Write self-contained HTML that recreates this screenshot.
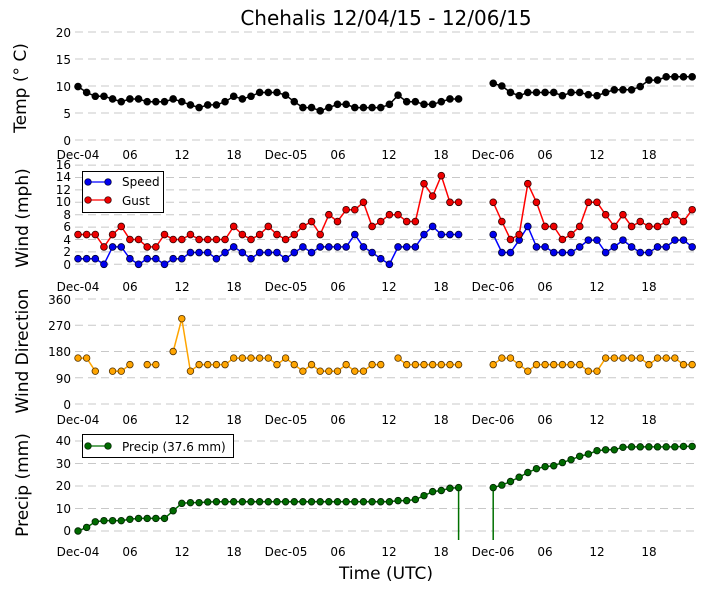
<!DOCTYPE html>
<html><head><meta charset="utf-8"><style>
html,body{margin:0;padding:0;background:#fff;}
svg{display:block;font-family:"DejaVu Sans","Liberation Sans",sans-serif;}
.t{font-size:12px;fill:#000;}
.yl{font-size:17px;fill:#000;}
</style></head><body>
<svg id="s" width="705" height="593" xmlns="http://www.w3.org/2000/svg">
<text x="386" y="25" text-anchor="middle" style="font-size:20px">Chehalis 12/04/15 - 12/06/15</text>
<g id="grid" stroke="#c8c8c8" stroke-width="1" stroke-dasharray="8,5"></g>
<g class="t" text-anchor="end">
<text x="71" y="37">20</text><text x="71" y="64">15</text><text x="71" y="91">10</text><text x="71" y="118">5</text><text x="71" y="145">0</text>
<text x="71" y="169">16</text><text x="71" y="181">14</text><text x="71" y="194">12</text><text x="71" y="206">10</text><text x="71" y="219">8</text><text x="71" y="231">6</text><text x="71" y="244">4</text><text x="71" y="256">2</text><text x="71" y="269">0</text>
<text x="71" y="304">360</text><text x="71" y="330">270</text><text x="71" y="356">180</text><text x="71" y="383">90</text><text x="71" y="409">0</text>
<text x="71" y="445">40</text><text x="71" y="468">30</text><text x="71" y="490">20</text><text x="71" y="513">10</text><text x="71" y="535">0</text>
</g>
<g class="t" text-anchor="middle">
<text x="78" y="159">Dec-04</text><text x="130" y="159">06</text><text x="182" y="159">12</text><text x="234" y="159">18</text><text x="286" y="159">Dec-05</text><text x="338" y="159">06</text><text x="389" y="159">12</text><text x="441" y="159">18</text><text x="493" y="159">Dec-06</text><text x="545" y="159">06</text><text x="597" y="159">12</text><text x="649" y="159">18</text>
<text x="78" y="291">Dec-04</text><text x="130" y="291">06</text><text x="182" y="291">12</text><text x="234" y="291">18</text><text x="286" y="291">Dec-05</text><text x="338" y="291">06</text><text x="389" y="291">12</text><text x="441" y="291">18</text><text x="493" y="291">Dec-06</text><text x="545" y="291">06</text><text x="597" y="291">12</text><text x="649" y="291">18</text>
<text x="78" y="424">Dec-04</text><text x="130" y="424">06</text><text x="182" y="424">12</text><text x="234" y="424">18</text><text x="286" y="424">Dec-05</text><text x="338" y="424">06</text><text x="389" y="424">12</text><text x="441" y="424">18</text><text x="493" y="424">Dec-06</text><text x="545" y="424">06</text><text x="597" y="424">12</text><text x="649" y="424">18</text>
<text x="78" y="556">Dec-04</text><text x="130" y="556">06</text><text x="182" y="556">12</text><text x="234" y="556">18</text><text x="286" y="556">Dec-05</text><text x="338" y="556">06</text><text x="389" y="556">12</text><text x="441" y="556">18</text><text x="493" y="556">Dec-06</text><text x="545" y="556">06</text><text x="597" y="556">12</text><text x="649" y="556">18</text>
</g>
<g class="yl" text-anchor="middle">
<text transform="translate(26,88) rotate(-90)">Temp (° C)</text>
<text transform="translate(28,218) rotate(-90)">Wind (mph)</text>
<text transform="translate(28,351) rotate(-90)">Wind Direction</text>
<text transform="translate(28,485) rotate(-90)">Precip (mm)</text>
<text x="386" y="579">Time (UTC)</text>
</g>
<g id="series"></g>
<rect x="82.5" y="171.5" width="81" height="41" fill="#fff" stroke="#000" stroke-width="1"/>
<line x1="88" y1="182" x2="108" y2="182" stroke="#0000ff" stroke-width="1.3"/>
<circle cx="88" cy="182" r="3.3" fill="#0000ee" stroke="#000033" stroke-width="0.7"/><circle cx="108" cy="182" r="3.3" fill="#0000ee" stroke="#000033" stroke-width="0.7"/>
<text class="t" x="122" y="186">Speed</text>
<line x1="88" y1="200" x2="108" y2="200" stroke="#ff0000" stroke-width="1.3"/>
<circle cx="88" cy="200" r="3.3" fill="#ee0000" stroke="#330000" stroke-width="0.7"/><circle cx="108" cy="200" r="3.3" fill="#ee0000" stroke="#330000" stroke-width="0.7"/>
<text class="t" x="122" y="205">Gust</text>
<rect x="82.5" y="434.5" width="151" height="23" fill="#fff" stroke="#000" stroke-width="1"/>
<line x1="88" y1="446" x2="108" y2="446" stroke="#007000" stroke-width="1.3"/>
<circle cx="88" cy="446" r="3.3" fill="#006a00" stroke="#002000" stroke-width="0.7"/><circle cx="108" cy="446" r="3.3" fill="#006a00" stroke="#002000" stroke-width="0.7"/>
<text class="t" x="122" y="451">Precip (37.6 mm)</text>
</svg>
<script>
var NS="http://www.w3.org/2000/svg";
function X(h){return 78+h*8.65;}
var grid=document.getElementById('grid');
function gl(y){var l=document.createElementNS(NS,'line');l.setAttribute('x1',75);l.setAttribute('x2',697);l.setAttribute('y1',y);l.setAttribute('y2',y);grid.appendChild(l);}
[32,59,86,113,140].forEach(gl);
for(var i=0;i<=8;i++)gl(264.3-i*12.4);
for(var i=0;i<=4;i++)gl(404-i*26.25);
for(var i=0;i<=4;i++)gl(531-i*22.5);
var ser=document.getElementById('series');
function draw(segs,yf,col,fill,edge,r){
 segs.forEach(function(s){
  var pts=[];var cur=[];
  s.v.forEach(function(v,i){var h=s.h+i;if(v===null){if(cur.length)pts.push(cur);cur=[];}else cur.push([X(h),yf(v)]);});
  if(cur.length)pts.push(cur);
  pts.forEach(function(c){
   var pl=document.createElementNS(NS,'polyline');
   pl.setAttribute('points',c.map(function(p){return p[0].toFixed(1)+','+p[1].toFixed(1)}).join(' '));
   pl.setAttribute('fill','none');pl.setAttribute('stroke',col);pl.setAttribute('stroke-width','1.5');ser.appendChild(pl);
   c.forEach(function(p){var ci=document.createElementNS(NS,'circle');ci.setAttribute('cx',p[0]);ci.setAttribute('cy',p[1]);ci.setAttribute('r',r);ci.setAttribute('fill',fill);ci.setAttribute('stroke',edge);ci.setAttribute('stroke-width','0.8');ser.appendChild(ci);});
  });
 });
}
var t1=[9.9,8.8,8.1,8.1,7.6,7.1,7.6,7.6,7.1,7.1,7.1,7.6,7.1,6.5,6.0,6.5,6.5,7.1,8.1,7.6,8.1,8.8,8.8,8.8,8.3,7.1,6.0,6.0,5.4,6.0,6.6,6.6,6.0,6.0,6.0,6.0,6.6,8.3,7.1,7.1,6.6,6.6,7.1,7.6,7.6];
var t2=[10.5,10,8.8,8.2,8.8,8.8,8.8,8.8,8.2,8.8,8.8,8.4,8.2,8.8,9.3,9.3,9.3,9.9,11.1,11.1,11.7,11.7,11.7,11.7];
draw([{h:0,v:t1},{h:48,v:t2}],function(v){return 140-v*5.4},'#000','#000','#000',3.4);
var sm={0:0,1:0.9,2:1.9,3:2.8,4:3.9,5:4.8,6:6.1};
var gm={3:2.8,4:4,5:4.8,6:6.1,7:6.9,8:8,9:8.8,10:10,11:11,13:13,14:14.3};
function mp(a,m){return a.map(function(v){return m[v]!==undefined?m[v]:v});}
var s1=[1,1,1,0,3,3,1,0,1,1,0,1,1,2,2,2,1,2,3,2,1,2,2,2,1,2,3,2,3,3,3,3,5,3,2,1,0,3,3,3,5,6,5,5,5];
var s2=[5,2,2,4,6,3,3,2,2,2,3,4,4,2,3,4,3,2,2,3,3,4,4,3];
var g1=[5,5,5,3,5,6,4,4,3,3,5,4,4,5,4,4,4,4,6,5,4,5,6,5,4,5,6,7,5,8,7,9,9,10,6,7,8,8,7,7,13,11,14,10,10];
var g2=[10,7,4,5,13,10,6,6,4,5,6,10,10,8,6,8,6,7,6,6,7,8,7,9];
var wy=function(v){return 264.3-v*6.2};
draw([{h:0,v:mp(s1,sm)},{h:48,v:mp(s2,sm)}],wy,'#0000ff','#0000ee','#000033',3.4);
draw([{h:0,v:mp(g1,gm)},{h:48,v:mp(g2,gm)}],wy,'#ff0000','#ee0000','#330000',3.4);
var A=157.5,B=135,C=112.5,n=null;
var d1=[A,A,C,n,C,C,B,n,B,B,n,180,292.5,C,B,B,B,B,A,A,A,A,A,B,A,B,C,B,C,C,C,B,C,C,B,B,n,A,B,B,B,B,B,B,B];
var d2=[B,A,A,B,C,B,B,B,B,B,B,C,C,A,A,A,A,A,B,A,A,A,B,B];
draw([{h:0,v:d1},{h:48,v:d2}],function(v){return 404-v*0.2917},'#ffa500','#ffa500','#553300',3.3);
var p1=[0,1.6,4.1,4.6,4.6,4.6,5.2,5.6,5.6,5.6,5.6,9,12.3,12.6,12.6,12.9];
for(var i=16;i<=36;i++)p1.push(13.0);
p1=p1.concat([13.5,13.5,14,15.7,17.5,18,19,19.3]);
var p2=[19.3,20.4,22,23.9,26,27.7,28.6,29,30.4,31.7,33.2,34.2,35.7,36.1,36.1,37.2,37.4,37.4,37.4,37.4,37.4,37.4,37.6,37.6];
var py=function(v){return 531-v*2.25};
[[44,19.3],[48,19.3]].forEach(function(p){var l=document.createElementNS(NS,'line');l.setAttribute('x1',X(p[0]));l.setAttribute('x2',X(p[0]));l.setAttribute('y1',py(p[1]));l.setAttribute('y2',540);l.setAttribute('stroke','#007000');l.setAttribute('stroke-width','1.5');ser.appendChild(l);});
draw([{h:0,v:p1},{h:48,v:p2}],py,'#007000','#006a00','#002000',3.3);
</script>
</body></html>
